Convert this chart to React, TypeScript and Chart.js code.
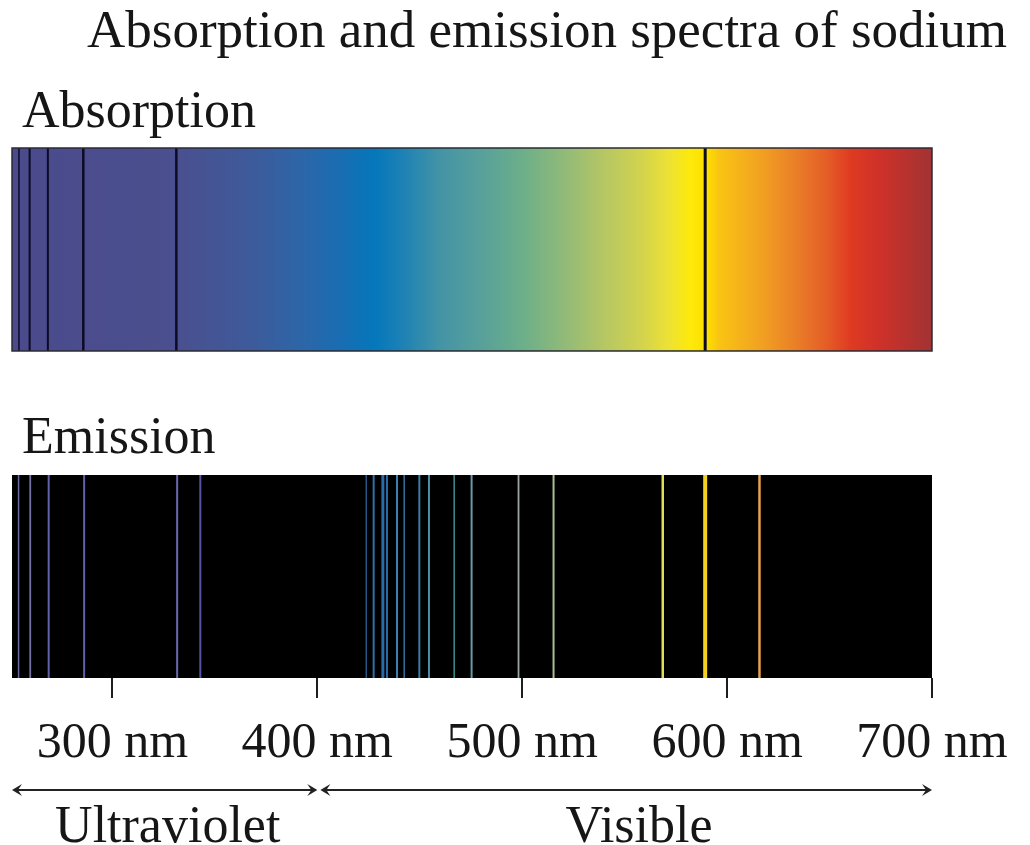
import React, { useEffect, useRef } from "react";
import { Chart, registerables } from "chart.js";

Chart.register(...registerables);

// ---- data ----
const X_MIN = 251;
const X_MAX = 700;
const TICK_VALUES = [300, 400, 500, 600, 700];

// absorption band gradient (wavelength nm -> colour)
const GRADIENT_NM = [251, 330, 367, 392, 411, 428, 440, 460, 480, 499, 519, 538, 558, 572, 582, 590, 596, 615, 635, 649, 660, 674, 700];
const GRADIENT_COLORS = ["#4b4a8c", "#4a4f8e", "#3e5a9a", "#2d66a8", "#1a6db2", "#0577bb", "#1a80b6", "#4494a6", "#58a09a", "#6aae8a", "#8eb97a", "#b2c566", "#d2d34e", "#eee233", "#fde90a", "#fde000", "#f9c412", "#f2a421", "#e97c28", "#e45c26", "#df3b22", "#cf3129", "#a13333"];

// absorption (dark) lines
const ABS_LINES_NM = [254.4, 259.6, 268.5, 285.8, 331.2, 589.3];
const ABS_LINE_WIDTHS = [1.5, 2, 2, 2.5, 2.5, 3];

// emission lines
const EMI_LINES_NM = [254.2, 259.9, 268.9, 286.2, 331.6, 342.9, 423.9, 427.5, 432.0, 434.0, 438.9, 442.4, 449.8, 454.5, 466.8, 475.3, 498.2, 515.3, 568.6, 589.3, 615.8];
const EMI_LINE_COLORS = ["#6a6aa0", "#7272a4", "#6262aa", "#6060a8", "#6868b0", "#5454a4", "#2a5584", "#3070a8", "#2a6aa8", "#2c6ca6", "#3a80b0", "#3272a4", "#3a7ca8", "#4a90a8", "#3e9090", "#6a9aa8", "#98a8a0", "#a8c090", "#e0e050", "#f2d21e", "#e8a050"];
const EMI_LINE_WIDTHS = [1.5, 1.8, 2, 2, 2, 2, 1.5, 2, 3, 2, 2, 1.5, 2, 2, 1.5, 2, 1.8, 2, 2.5, 4, 2.5];

// regions below the axis
const REGION_LABELS = ["Ultraviolet", "Visible"];
const REGION_FROM = [251, 401.5];
const REGION_TO = [400, 700];
const REGION_LABEL_AT = [327, 557];

const TITLE = "Absorption and emission spectra of sodium";
const ROW_LABELS = ["Absorption", "Emission"];

// band extents on the hidden y scale
const ABS_BAND = [0.617, 1];
const EMI_BAND = [0, 0.383];

const SERIF = "'Liberation Serif', 'Times New Roman', serif";

const spectrumPlugin = {
  id: "spectrum",
  beforeDatasetsDraw(chart: any) {
    const { ctx, scales } = chart;
    const xs = scales.x;
    const ys = scales.y;
    const x0 = xs.getPixelForValue(X_MIN);
    const x1 = xs.getPixelForValue(X_MAX);
    ctx.save();
    const aTop = ys.getPixelForValue(ABS_BAND[1]);
    const aBot = ys.getPixelForValue(ABS_BAND[0]);
    const g = ctx.createLinearGradient(x0, 0, x1, 0);
    GRADIENT_NM.forEach((nm, i) => {
      const t = (xs.getPixelForValue(nm) - x0) / (x1 - x0);
      g.addColorStop(Math.min(1, Math.max(0, t)), GRADIENT_COLORS[i]);
    });
    ctx.fillStyle = g;
    ctx.fillRect(x0, aTop, x1 - x0, aBot - aTop);
    const eTop = ys.getPixelForValue(EMI_BAND[1]);
    const eBot = ys.getPixelForValue(EMI_BAND[0]);
    ctx.fillStyle = "#000000";
    ctx.fillRect(x0, eTop, x1 - x0, eBot - eTop);
    ctx.restore();
  },
  afterDatasetsDraw(chart: any) {
    const { ctx, scales } = chart;
    const xs = scales.x;
    const ys = scales.y;
    const x0 = xs.getPixelForValue(X_MIN);
    const x1 = xs.getPixelForValue(X_MAX);
    const aTop = ys.getPixelForValue(ABS_BAND[1]);
    const aBot = ys.getPixelForValue(ABS_BAND[0]);
    ctx.save();
    ctx.strokeStyle = "#2b2b33";
    ctx.lineWidth = 1.5;
    ctx.strokeRect(x0, aTop, x1 - x0, aBot - aTop);
    ctx.restore();
  },
  afterDraw(chart: any) {
    const { ctx, scales } = chart;
    const xs = scales.x;
    ctx.save();
    ctx.fillStyle = "#161616";
    ctx.textBaseline = "alphabetic";
    ctx.textAlign = "left";
    ctx.font = `53px ${SERIF}`;
    ctx.fillText(TITLE, 87, 47);
    ctx.font = `52px ${SERIF}`;
    ctx.fillText(ROW_LABELS[0], 22, 127);
    ctx.fillText(ROW_LABELS[1], 22, 453);

    const ay = 790;
    ctx.strokeStyle = "#222";
    ctx.fillStyle = "#222";
    ctx.lineWidth = 1.8;
    REGION_LABELS.forEach((label, i) => {
      const xa = xs.getPixelForValue(REGION_FROM[i]);
      const xb = xs.getPixelForValue(REGION_TO[i]);
      ctx.beginPath();
      ctx.moveTo(xa + 2, ay);
      ctx.lineTo(xb - 2, ay);
      ctx.stroke();
      [[xa, 1], [xb, -1]].forEach(([tip, dir]) => {
        ctx.beginPath();
        ctx.moveTo(tip, ay);
        ctx.lineTo(tip + dir * 10, ay - 6);
        ctx.lineTo(tip + dir * 6, ay);
        ctx.lineTo(tip + dir * 10, ay + 6);
        ctx.closePath();
        ctx.fill();
      });
      ctx.textAlign = "center";
      ctx.font = `52px ${SERIF}`;
      ctx.fillStyle = "#161616";
      ctx.fillText(label, xs.getPixelForValue(REGION_LABEL_AT[i]), 842);
      ctx.fillStyle = "#222";
    });
    ctx.restore();
  },
};

function lineDataset(nm: number, band: number[], color: string, width: number) {
  return {
    type: "line" as const,
    data: [
      { x: nm, y: band[0] },
      { x: nm, y: band[1] },
    ],
    borderColor: color,
    borderWidth: width,
    pointRadius: 0,
    fill: false,
    tension: 0,
  };
}

export default function App() {
  const ref = useRef<HTMLCanvasElement | null>(null);
  useEffect(() => {
    if (!ref.current) return;
    const datasets: any[] = [];
    ABS_LINES_NM.forEach((nm, i) => datasets.push(lineDataset(nm, ABS_BAND, "#0c0a24", ABS_LINE_WIDTHS[i])));
    EMI_LINES_NM.forEach((nm, i) => datasets.push(lineDataset(nm, EMI_BAND, EMI_LINE_COLORS[i], EMI_LINE_WIDTHS[i])));
    const chart = new Chart(ref.current, {
      type: "line",
      data: { datasets },
      plugins: [spectrumPlugin],
      options: {
        animation: false,
        responsive: false,
        maintainAspectRatio: false,
        layout: { padding: { left: 12, right: 98, top: 148, bottom: 0 } },
        plugins: {
          legend: { display: false },
          title: { display: false },
          tooltip: { enabled: false },
        },
        scales: {
          x: {
            type: "linear",
            min: X_MIN,
            max: X_MAX,
            afterBuildTicks: (scale: any) => {
              scale.ticks = TICK_VALUES.map((v) => ({ value: v }));
            },
            afterFit: (scale: any) => {
              scale.height = 167;
            },
            border: { display: false },
            grid: {
              drawOnChartArea: false,
              drawTicks: true,
              tickLength: 20,
              color: "#1e1e1e",
              lineWidth: 2,
            },
            ticks: {
              autoSkip: false,
              maxRotation: 0,
              padding: 16,
              color: "#161616",
              font: { family: SERIF, size: 50 },
              callback: (v: any) => `${v} nm`,
            },
          },
          y: {
            type: "linear",
            min: 0,
            max: 1,
            display: false,
          },
        },
      },
    });
    return () => chart.destroy();
  }, []);
  return (
    <div style={{ position: "absolute", left: 0, top: 0, width: 1030, height: 845, background: "#ffffff" }}>
      <canvas ref={ref} width={1030} height={845} style={{ display: "block" }} />
    </div>
  );
}
